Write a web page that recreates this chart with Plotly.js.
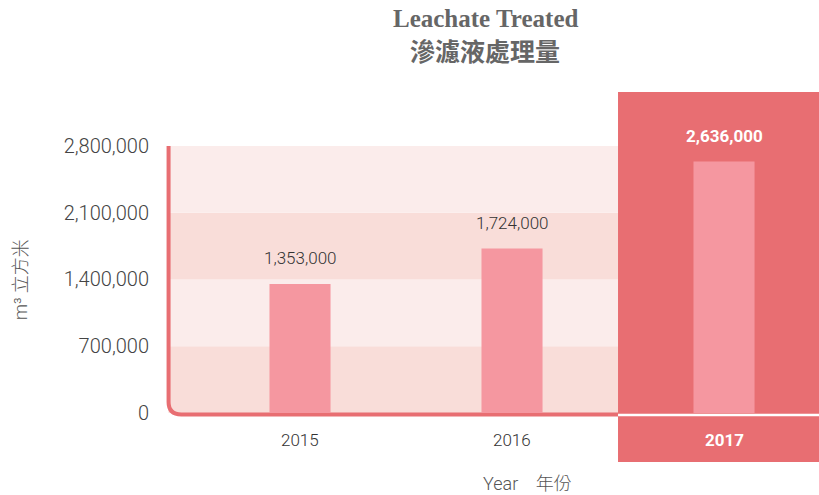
<!DOCTYPE html>
<html>
<head>
<meta charset="utf-8">
<script src="https://cdn.plot.ly/plotly-3.0.1.min.js"></script>
<style>html,body{margin:0;padding:0;background:#fff;}#chart{width:819px;height:495px;}</style>
</head>
<body>
<div id="chart"></div>
<script>
const years = ['2015', '2016', '2017'];
const values = [1353000, 1724000, 2636000];
const valueLabels = ['1,353,000', '1,724,000', '2,636,000'];
const yTickVals = [0, 700000, 1400000, 2100000, 2800000];
const yTickText = ['0', '700,000', '1,400,000', '2,100,000', '2,800,000'];
const highlightIndex = 2;

const RED = '#E86E72';
const BAR = '#F597A0';
const BAND_LIGHT = '#FBECEB';
const BAND_DARK = '#F9DDD9';

const xs = years.map((_, i) => i);
const xMin = -0.6604, xMax = 2.448;
const yMin = -513800, yMax = 3366000;
const plotL = 160, plotW = 659, plotT = 92, plotH = 495 - 92 - 33;

const shapes = [];
// alternating bands
for (let i = 0; i < yTickVals.length - 1; i++) {
  shapes.push({type: 'rect', layer: 'below', xref: 'x', yref: 'y',
    x0: -0.62, x1: xMax, y0: yTickVals[i], y1: yTickVals[i + 1],
    fillcolor: (i % 2 === 0) ? BAND_DARK : BAND_LIGHT, line: {width: 0}});
}
// highlight column
shapes.push({type: 'rect', layer: 'below', xref: 'x', yref: 'y',
  x0: highlightIndex - 0.5, x1: xMax + 0.1, y0: yMin - 100000, y1: yMax + 100000,
  fillcolor: RED, line: {width: 0}});
// white baseline inside highlight
shapes.push({type: 'line', layer: 'below', xref: 'x', yref: 'y',
  x0: highlightIndex - 0.5, x1: xMax + 0.1, y0: -20000, y1: -20000,
  line: {color: '#ffffff', width: 2.5}});
// rounded axis line
const ax = -0.62, rx = 0.06, ry = 130000, by = -15000;
shapes.push({type: 'path', layer: 'below', xref: 'x', yref: 'y',
  path: `M ${ax},${yTickVals[yTickVals.length-1]} L ${ax},${by + ry} Q ${ax},${by} ${ax + rx},${by} L ${highlightIndex - 0.5},${by}`,
  line: {color: RED, width: 4}});

const annotations = [];
values.forEach((v, i) => {
  const hl = i === highlightIndex;
  annotations.push({x: i, y: v, xref: 'x', yref: 'y', text: hl ? '<b>' + valueLabels[i] + '</b>' : valueLabels[i],
    showarrow: false, yshift: 26, font: {family: 'Roboto', size: 17, weight: hl ? 700 : 300, color: hl ? '#ffffff' : '#333333'}});
  annotations.push({x: i, y: 0, xref: 'x', yref: 'y', text: hl ? '<b>' + years[i] + '</b>' : years[i],
    showarrow: false, yshift: -27, font: {family: 'Roboto', size: 17, weight: hl ? 700 : 300, color: hl ? '#ffffff' : '#333333'}});
});
const px2x = p => (p - plotL) / plotW;
const py2y = p => 1 - (p - plotT) / plotH;
const LIGHT = 'Roboto, "Noto Sans CJK TC", sans-serif';
annotations.push({xref: 'paper', yref: 'paper', x: px2x(485), y: py2y(18), yanchor: 'middle', xanchor: 'center',
  showarrow: false, text: '<b>Leachate Treated</b>', font: {family: 'Liberation Serif', size: 25, color: '#666666'}});
annotations.push({xref: 'paper', yref: 'paper', x: px2x(485), y: py2y(50), yanchor: 'middle', xanchor: 'center',
  showarrow: false, text: '<b>滲濾液處理量</b>', font: {family: 'Noto Sans CJK TC', size: 25, color: '#666666'}});
annotations.push({xref: 'paper', yref: 'paper', x: px2x(527), y: py2y(483), yanchor: 'middle', xanchor: 'center',
  showarrow: false, text: 'Year&nbsp;&nbsp;&nbsp;&nbsp;年份', font: {family: LIGHT, size: 18, weight: 300, color: '#555555'}});
annotations.push({xref: 'paper', yref: 'paper', x: px2x(20), y: py2y(280), yanchor: 'middle', xanchor: 'center', textangle: -90,
  showarrow: false, text: 'm³ 立方米', font: {family: LIGHT, size: 18, weight: 300, color: '#555555'}});

const layout = {
  width: 819, height: 495,
  margin: {l: plotL, r: 0, t: plotT, b: 33, pad: 0},
  paper_bgcolor: '#ffffff', plot_bgcolor: 'rgba(0,0,0,0)',
  showlegend: false,
  xaxis: {range: [xMin, xMax], showgrid: false, zeroline: false, showline: false, showticklabels: false, fixedrange: true},
  yaxis: {range: [yMin, yMax], tickvals: yTickVals, ticktext: yTickText, showgrid: false, zeroline: false, showline: false,
    ticks: '', ticklabelstandoff: 10, tickfont: {family: 'Roboto', size: 20, weight: 300, color: '#444444'}},
  shapes: shapes,
  annotations: annotations
};

const data = [{
  type: 'bar', x: xs, y: values, width: 0.288,
  marker: {color: BAR, line: {width: 0}}, hoverinfo: 'none'
}];

Plotly.newPlot('chart', data, layout, {displayModeBar: false, staticPlot: true});
</script>
</body>
</html>
